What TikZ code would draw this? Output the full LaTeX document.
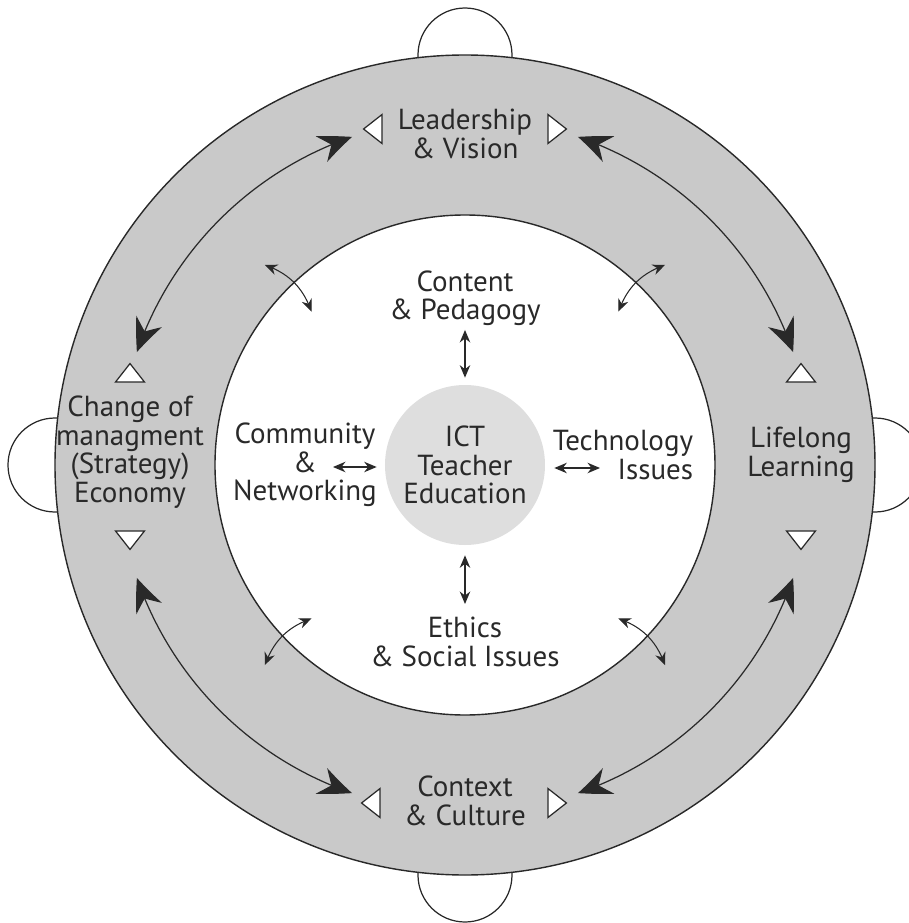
\documentclass[tikz,border=0pt]{standalone}
\usepackage{fontspec}
\setmainfont{PT Sans}
\usepackage{xcolor}
\usetikzlibrary{positioning, arrows.meta, bending, shapes.geometric}

\definecolor{ringgray}{gray}{0.79}
\definecolor{coregray}{gray}{0.87}
\definecolor{inkgray}{gray}{0.16}

\begin{document}
\begin{tikzpicture}[
	x=0.2mm, y=0.2mm,
	txt/.style={
		align=center,
		inner sep=0pt,
		text=inkgray,
		font=\fontsize{16.5}{16.2}\selectfont
	},
	core/.style={
		txt,
		circle,
		fill=coregray,
		minimum size=32mm
	},
	tri/.style={
		draw=inkgray,
		fill=white,
		line width=0.7pt,
		isosceles triangle,
		isosceles triangle stretches,
		inner sep=0pt,
		minimum width=5.8mm,
		minimum height=3.7mm
	},
	bump/.style={
		draw=inkgray,
		fill=white,
		line width=0.7pt
	},
	bigarr/.style={
		{Stealth[length=6.6mm, width=5.6mm, inset=2.2mm, bend]}-{Stealth[length=6.6mm, width=5.6mm, inset=2.2mm, bend]},
		draw=inkgray,
		line width=0.7pt
	},
	sarr/.style={
		{Stealth[length=2.5mm, width=2.1mm]}-{Stealth[length=2.5mm, width=2.1mm]},
		draw=inkgray,
		line width=0.6pt
	}
	]
	
	\useasboundingbox (-465,-458) rectangle (444,465);
	
	% Small half circles behind the ring
	\draw[bump] (0,410) circle[radius=47];
	\draw[bump] (0,-410) circle[radius=47];
	\draw[bump] (-410,0) circle[radius=47];
	\draw[bump] (410,0) circle[radius=47];
	
	% Gray ring
	\draw[fill=ringgray, draw=inkgray, line width=0.8pt, even odd rule] (0,0) circle[radius=410] (0,0) circle[radius=250];
	
	% Centre
	\node[core] (ict) at (0,0) {ICT\\Teacher\\Education};
	
	% Ring labels
	\node[txt] (lead) at (0,331) {Leadership\\\& Vision};
	\node[txt] (change) at (-335,13) {Change of\\managment\\(Strategy)\\Economy};
	\node[txt] (life) at (336,10) {Lifelong\\Learning};
	\node[txt] (context) at (0,-336) {Context\\\& Culture};
	
	% Inner labels
	\node[txt] (content) at (0,167) {Content\\\& Pedagogy};
	\node[txt] (ethics) at (0,-177) {Ethics\\\& Social Issues};
	\node[txt] (comm) at (-160,0) {Community\\\&\\Networking};
	\node[txt, align=right] (tech) at (158,10) {Technology\\Issues};
	
	% White triangles
	\node[tri, rotate=180] (leadL) at (-90,336) {};
	\node[tri] (leadR) at (90,336) {};
	\node[tri, rotate=90] (changeU) at (-335,90) {};
	\node[tri, rotate=-90] (changeD) at (-335,-73) {};
	\node[tri, rotate=90] (lifeU) at (336,90) {};
	\node[tri, rotate=-90] (lifeD) at (336,-73) {};
	\node[tri, rotate=180] (contextL) at (-92,-338) {};
	\node[tri] (contextR) at (90,-338) {};
	
	% Big arrows round the ring
	\coordinate (lvL) at (109:347);
	\coordinate (lvR) at (71:347);
	\coordinate (ccL) at (251:347);
	\coordinate (ccR) at (289:347);
	\draw[bigarr] (lvL) arc[start angle=109, end angle=161, radius=347];
	\draw[bigarr] (lvR) arc[start angle=71, end angle=19, radius=347];
	\draw[bigarr] (ccL) arc[start angle=251, end angle=199, radius=347];
	\draw[bigarr] (ccR) arc[start angle=289, end angle=341, radius=347];
	
	% Arrows to the centre
	\draw[sarr, shorten <=0.8mm, shorten >=1.4mm] (content.south) -- (ict.north);
	\draw[sarr, shorten <=2mm, shorten >=2.6mm] (ict.south) -- (ethics.north);
	\coordinate (commA) at (-132,-2);
	\coordinate (techA) at (135,-3);
	\draw[sarr, shorten >=1.6mm] (commA) -- (commA -| ict.west);
	\draw[sarr, shorten <=1.8mm] (techA -| ict.east) -- (techA);
	
	% Arrows across the inner circle
	\coordinate (tlOut) at (135:283);
	\coordinate (tlIn) at (135:217);
	\coordinate (trOut) at (45:283);
	\coordinate (trIn) at (45:217);
	\coordinate (blOut) at (225:283);
	\coordinate (blIn) at (225:217);
	\coordinate (brOut) at (-45:283);
	\coordinate (brIn) at (-45:217);
	\draw[sarr] (tlOut) to[bend left=25] (tlIn);
	\draw[sarr] (trOut) to[bend right=25] (trIn);
	\draw[sarr] (blOut) to[bend left=25] (blIn);
	\draw[sarr] (brOut) to[bend right=25] (brIn);
	
\end{tikzpicture}
\end{document}
